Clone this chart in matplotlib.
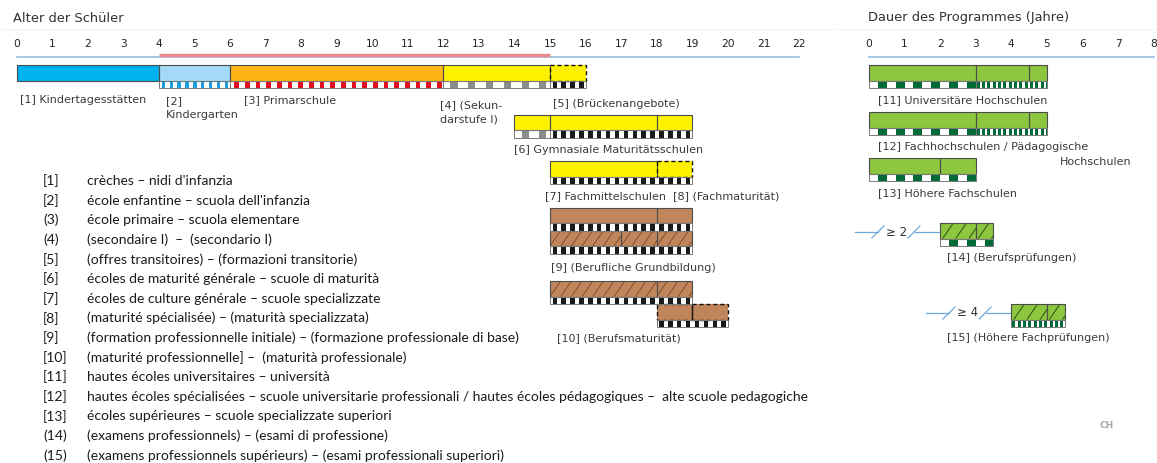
import matplotlib
matplotlib.use('Agg')
import matplotlib.pyplot as plt
from matplotlib.patches import Rectangle
from matplotlib.collections import LineCollection

W, H, DPI = 1157, 463, 100

# ---------------- data ----------------
age_ticks = list(range(0, 23))
dur_ticks = list(range(0, 9))
compulsory_span = [4, 15]

age_bar_row    = [0, 0, 0, 0, 0, 1, 1, 1, 2, 2, 3, 3, 4, 4, 4, 5, 5, 6, 6]
age_bar_start  = [0, 4, 6, 12, 15, 14, 15, 18, 15, 18, 15, 18, 15, 17, 18, 15, 18, 18, 19]
age_bar_end    = [4, 6, 12, 15, 16, 15, 18, 19, 18, 19, 18, 19, 17, 18, 19, 18, 19, 19, 20]
age_bar_fill   = ['kita', 'kg', 'prim', 'sec', 'sec', 'sec', 'sec', 'sec', 'sec', 'sec',
                  'voc', 'voc', 'vocH', 'vocH', 'vocH', 'vocH', 'vocH', 'voc', 'voc']
age_bar_dashed = [False, False, False, False, True, False, False, False, False, True,
                  False, False, False, False, False, False, False, True, True]

age_strip_row   = [0, 0, 0, 0, 1, 1, 2, 3, 4, 5, 6]
age_strip_start = [4, 6, 12, 15, 14, 15, 15, 15, 15, 15, 18]
age_strip_end   = [6, 12, 15, 16, 15, 19, 19, 19, 19, 19, 20]
age_strip_kind  = ['blue', 'red', 'gray', 'black', 'gray', 'black', 'black', 'black',
                   'black', 'black', 'black']

dur_bar_row   = [0, 0, 0, 1, 1, 1, 2, 2, 3, 3, 4, 4]
dur_bar_start = [0, 3, 4.5, 0, 3, 4.5, 0, 2, 2, 3, 4, 5]
dur_bar_end   = [3, 4.5, 5, 3, 4.5, 5, 2, 3, 3, 3.5, 5, 5.5]
dur_bar_fill  = ['ter'] * 8 + ['terH'] * 4

dur_strip_row   = [0, 0, 1, 1, 2, 3, 4]
dur_strip_start = [0, 3, 0, 3, 0, 2, 4]
dur_strip_end   = [3, 5, 3, 5, 3, 3.5, 5.5]
dur_strip_kind  = ['gc', 'gf', 'gc', 'gf', 'gc', 'gc', 'gf']

min_years = [2, 4]
min_rows = [3, 4]

age_labels = ['[1] Kindertagesstätten', '[2]\nKindergarten', '[3] Primarschule',
              '[4] (Sekun-\ndarstufe I)', '[5] (Brückenangebote)',
              '[6] Gymnasiale Maturitätsschulen',
              '[7] Fachmittelschulen  [8] (Fachmaturität)',
              '[9] (Berufliche Grundbildung)', '[10] (Berufsmaturität)']
dur_labels = ['[11] Universitäre Hochschulen', '[12] Fachhochschulen / Pädagogische',
              'Hochschulen', '[13] Höhere Fachschulen', '[14] (Berufsprüfungen)',
              '[15] (Höhere Fachprüfungen)']

leg_nums = ['[1]', '[2]', '(3)', '(4)', '[5]', '[6]', '[7]', '[8]', '[9]', '[10]',
            '[11]', '[12]', '[13]', '(14)', '(15)']
leg_texts = [
    "crèches – nidi d'infanzia",
    "école enfantine – scuola dell'infanzia",
    "école primaire – scuola elementare",
    "(secondaire I)  –  (secondario I)",
    "(offres transitoires) – (formazioni transitorie)",
    "écoles de maturité générale – scuole di maturità",
    "écoles de culture générale – scuole specializzate",
    "(maturité spécialisée) – (maturità specializzata)",
    "(formation professionnelle initiale) – (formazione professionale di base)",
    "(maturité professionnelle] –  (maturità professionale)",
    "hautes écoles universitaires – università",
    "hautes écoles spécialisées – scuole universitarie professionali / hautes écoles pédagogiques –  alte scuole pedagogiche",
    "écoles supérieures – scuole specializzate superiori",
    "(examens professionnels) – (esami di professione)",
    "(examens professionnels supérieurs) – (esami professionali superiori)",
]

# ---------------- style / layout ----------------
fills = {'kita': '#00b2ef', 'kg': '#a3daf6', 'prim': '#fdb515', 'sec': '#fff200',
         'voc': '#c0855a', 'vocH': '#c0855a', 'ter': '#8dc63f', 'terH': '#8dc63f'}
# hatch: (spacing in years, horizontal run of one line in years, colour)
hatches = {'vocH': (0.3, 0.3, '#7e5232'), 'terH': (0.37, 0.3, '#2f4d14')}
# strip kind: (period, fraction, offset, colour)
patterns = {'blue': (0.222, 0.42, 0.08, '#1a9fe0'),
            'red': (0.3, 0.45, 0.12, '#e30f1f'),
            'gray': (0.5, 0.4, 0.2, '#8c8c8c'),
            'black': (0.25, 0.5, 0.07, '#1a1a1a'),
            'gc': (0.5, 0.5, 0.25, '#006b37'),
            'gf': (0.15, 0.55, 0.03, '#006b37')}

PPY = 35.57
age_row_top = [65, 114.5, 161, 207.5, 230.5, 281, 304]
dur_row_top = [65, 112, 158, 223, 304]
BAR_H, STRIP_H = 15.5, 7.5
EDGE = '#4d4d4d'

fig = plt.figure(figsize=(W / DPI, H / DPI), dpi=DPI)
fig.patch.set_facecolor('white')

axL = fig.add_axes([0, 0, 840 / W, 1])
axL.set_xlim(-16.5 / PPY, (840 - 16.5) / PPY)
axR = fig.add_axes([840 / W, 0, 317 / W, 1])
axR.set_xlim((840 - 869) / PPY, (1157 - 869) / PPY)
for ax in (axL, axR):
    ax.set_ylim(H, 0)
    ax.axis('off')


def draw_bar(ax, s, e, top, fill, dashed):
    fc = fills[fill]
    base = Rectangle((s, top), e - s, BAR_H, facecolor=fc, edgecolor='none', zorder=2)
    ax.add_patch(base)
    if fill in hatches:
        sp, run, hc = hatches[fill]
        segs = []
        x = s - run
        while x < e:
            segs.append([(x, top + BAR_H), (x + run, top)])
            x += sp
        lc = LineCollection(segs, colors=hc, linewidths=0.7, zorder=3)
        ax.add_collection(lc)
        lc.set_clip_path(base)
    if dashed:
        ax.add_patch(Rectangle((s, top), e - s, BAR_H, facecolor='none', edgecolor='#111111',
                               linewidth=1.0, linestyle=(0, (3, 2)), zorder=4))
    else:
        ax.add_patch(Rectangle((s, top), e - s, BAR_H, facecolor='none', edgecolor=EDGE,
                               linewidth=0.8, zorder=4))


def draw_strip(ax, s, e, top, kind):
    period, frac, off, col = patterns[kind]
    ax.add_patch(Rectangle((s, top), e - s, STRIP_H, facecolor='white', edgecolor='none', zorder=2))
    segs = []
    x = s + off
    while x < e - 1e-6:
        segs.append((x, min(period * frac, e - x)))
        x += period
    ax.broken_barh(segs, (top, STRIP_H), facecolors=col, zorder=3)
    ax.add_patch(Rectangle((s, top), e - s, STRIP_H, facecolor='none', edgecolor='#7a7a7a',
                           linewidth=0.7, zorder=4))


for r, s, e, f, d in zip(age_bar_row, age_bar_start, age_bar_end, age_bar_fill, age_bar_dashed):
    draw_bar(axL, s, e, age_row_top[r], f, d)
for r, s, e, k in zip(age_strip_row, age_strip_start, age_strip_end, age_strip_kind):
    draw_strip(axL, s, e, age_row_top[r] + BAR_H, k)
for r, s, e, f in zip(dur_bar_row, dur_bar_start, dur_bar_end, dur_bar_fill):
    draw_bar(axR, s, e, dur_row_top[r], f, False)
for r, s, e, k in zip(dur_strip_row, dur_strip_start, dur_strip_end, dur_strip_kind):
    draw_strip(axR, s, e, dur_row_top[r] + BAR_H, k)

# axes lines and ticks
axL.plot([age_ticks[0], age_ticks[-1]], [57, 57], color='#9dc3e6', lw=1.3, zorder=1)
axL.plot(compulsory_span, [55, 55], color='#f08a8a', lw=2.4, zorder=2, solid_capstyle='butt')
axR.plot([dur_ticks[0], dur_ticks[-1]], [57, 57], color='#9dc3e6', lw=1.3, zorder=1)
TICKFONT = dict(fontsize=7.7, color='#222222', ha='center', va='center', family='DejaVu Sans')
for t in age_ticks:
    axL.text(t, 44, str(t), **TICKFONT)
for t in dur_ticks:
    axR.text(t, 44, str(t), **TICKFONT)

# faint separator lines under titles
axL.plot([-0.4, 23], [29, 29], color='#f2f2f2', lw=0.8, zorder=0)
axR.plot([-0.8, 8.1], [29, 29], color='#f2f2f2', lw=0.8, zorder=0)

TITLEFONT = dict(fontsize=9.4, color='#333333', ha='left', va='center', family='DejaVu Sans')
fig.text(13 / W, 1 - 18 / H, 'Alter der Schüler', **TITLEFONT)
fig.text(868 / W, 1 - 18 / H, 'Dauer des Programmes (Jahre)', **TITLEFONT)

LAB = dict(fontsize=8, color='#3a3a3a', va='center', family='DejaVu Sans', linespacing=1.5)
age_lab_x = [0.1, 4.2, 6.4, 11.9, 15.08, 14.0, 14.86, 15.03, 15.2]
age_lab_y = [100, 108.5, 100, 112.5, 104, 150, 196, 268, 338]
for txt, x, y in zip(age_labels, age_lab_x, age_lab_y):
    axL.text(x, y, txt, ha='left', **LAB)
dur_lab_x = [0.25, 0.25, 7.39, 0.25, 2.19, 2.19]
dur_lab_y = [100, 147, 162, 193, 258, 338]
dur_lab_ha = ['left', 'left', 'right', 'left', 'left', 'left']
for txt, x, y, ha in zip(dur_labels, dur_lab_x, dur_lab_y, dur_lab_ha):
    axR.text(x, y, txt, ha=ha, **LAB)

# "≥ n" markers before rows 14 and 15
for n, r in zip(min_years, min_rows):
    yc = dur_row_top[r] + 9
    axR.plot([n - 2.4, n - 1.75], [yc, yc], color='#6fa8dc', lw=0.9, zorder=1)
    axR.plot([n - 1.92, n - 1.58], [yc + 6, yc - 6], color='#6fa8dc', lw=0.9, zorder=1)
    axR.text(n - 1.22, yc, '≥ %d' % n, fontsize=8.5, color='#333333', ha='center', va='center',
             family='DejaVu Sans')
    axR.plot([n - 0.9, n - 0.57], [yc + 6, yc - 6], color='#6fa8dc', lw=0.9, zorder=1)
    axR.plot([n - 0.72, n], [yc, yc], color='#6fa8dc', lw=0.9, zorder=1)

# legend list
LEG = dict(color='#1a1a1a', va='center', ha='left', family='Lato')
leg_objs = []
for i, (num, txt) in enumerate(zip(leg_nums, leg_texts)):
    y = 181 + i * 19.6
    a = fig.text(43 / W, 1 - y / H, num, fontsize=9.2, **LEG)
    b = fig.text(87 / W, 1 - y / H, txt, fontsize=9.2, **LEG)
    leg_objs.append((a, b))
fig.canvas.draw()
rend = fig.canvas.get_renderer()
wid = leg_objs[11][1].get_window_extent(rend).width
fs = 9.2 * 718.0 / wid
for a, b in leg_objs:
    a.set_fontsize(fs)
    b.set_fontsize(fs)

fig.text(1107 / W, 1 - 425 / H, 'CH', fontsize=6.5, color='#a6a6a6', ha='center', va='center',
         fontweight='bold', family='DejaVu Sans')

fig.savefig('out.png', dpi=DPI, facecolor='white')
